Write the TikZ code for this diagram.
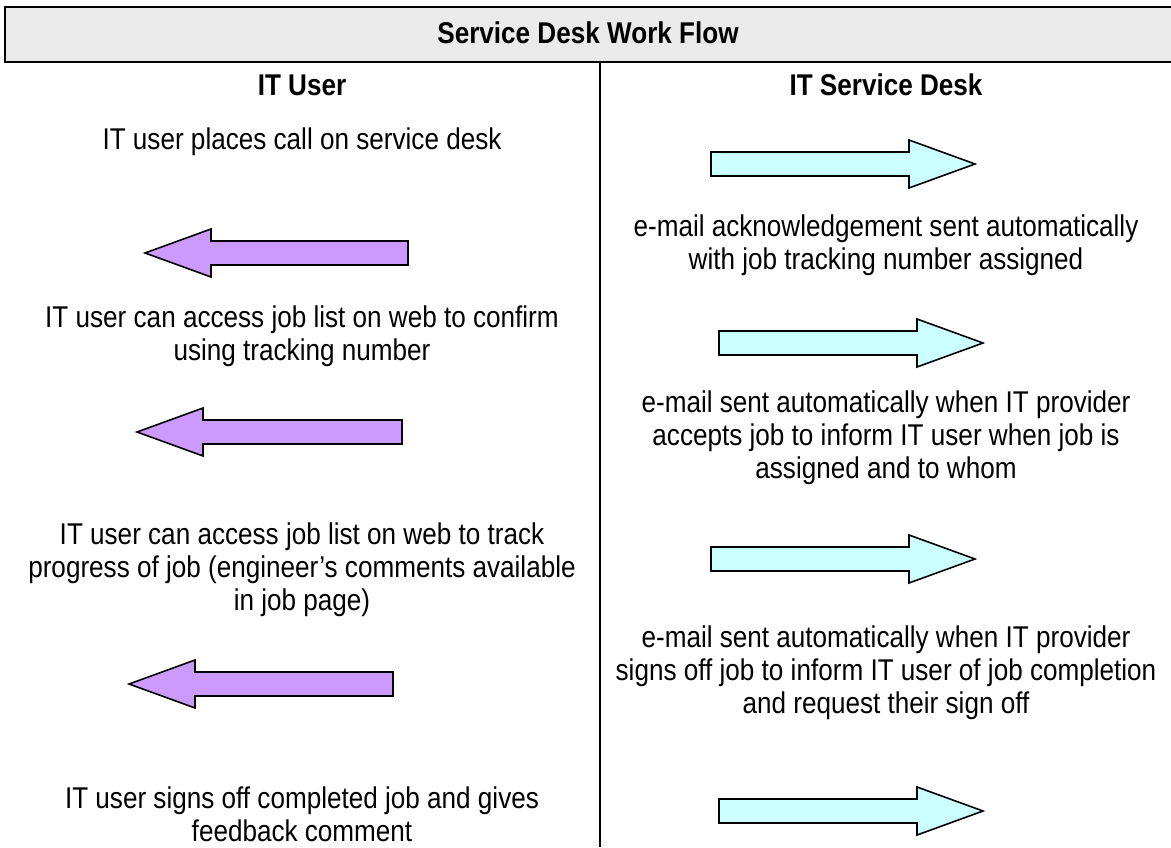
\documentclass[tikz,border=0pt]{standalone}
\usepackage{fontspec}
\setmainfont{Liberation Sans}[FakeStretch=0.87]
\definecolor{headfill}{HTML}{EAEAEA}
\definecolor{deskfill}{HTML}{CCFFFF}
\definecolor{userfill}{HTML}{CC99FF}
\tikzset{
  body/.style={align=center, inner sep=0pt, font=\fontsize{30}{33}\selectfont},
  title/.style={inner sep=0pt, font=\fontsize{30}{33}\selectfont\bfseries},
  deskarrow/.style={draw=black, line width=1.6pt, fill=deskfill, line join=miter},
  userarrow/.style={draw=black, line width=1.6pt, fill=userfill, line join=miter},
}
% block arrow: #1 style, #2 tail x, #3 tip x, #4 centre y
\newcommand{\blockarrow}[4]{%
  \pgfmathsetmacro{\hb}{#3 > #2 ? #3-66 : #3+66}%
  \draw[#1] (#2,#4-12) -- (\hb,#4-12) -- (\hb,#4-24) -- (#3,#4)
            -- (\hb,#4+24) -- (\hb,#4+12) -- (#2,#4+12) -- cycle;}
\begin{document}
\begin{tikzpicture}[x=1pt, y=-1pt]
\useasboundingbox (0,0) rectangle (1171,847);

% heading band
\fill[headfill] (5,7) rectangle (1171,62);
\draw[line width=2pt] (1171,7) -- (5,7) -- (5,62) -- (1171,62);
\node[title] (heading) at (588,33) {Service Desk Work Flow};

% column divider
\draw[line width=1.5pt] (600,62) -- (600,847);

\node[title] (usercol) at (302,85) {IT User};
\node[title] (deskcol) at (886,85) {IT Service Desk};

% IT user column
\node[body] (u1) at (302,142) {IT user places call on service desk};
\node[body] (u2) at (302,336) {IT user can access job list on web to confirm\\using tracking number};
\node[body] (u3) at (302,570) {IT user can access job list on web to track\\progress of job (engineer’s comments available\\in job page)};
\node[body] (u4) at (302,814) {IT user signs off completed job and gives\\feedback comment};

% IT service desk column
\node[body] (d1) at (886,245) {e-mail acknowledgement sent automatically\\with job tracking number assigned};
\node[body] (d2) at (886,438) {e-mail sent automatically when IT provider\\accepts job to inform IT user when job is\\assigned and to whom};
\node[body] (d3) at (886,673) {e-mail sent automatically when IT provider\\signs off job to inform IT user of job completion\\and request their sign off};

% hand-over arrows
\blockarrow{deskarrow}{711}{975}{164}
\blockarrow{userarrow}{408}{145}{253}
\blockarrow{deskarrow}{719}{983}{343}
\blockarrow{userarrow}{402}{137}{432}
\blockarrow{deskarrow}{711}{975}{559}
\blockarrow{userarrow}{393}{129}{684}
\blockarrow{deskarrow}{719}{983}{811}
\end{tikzpicture}
\end{document}
